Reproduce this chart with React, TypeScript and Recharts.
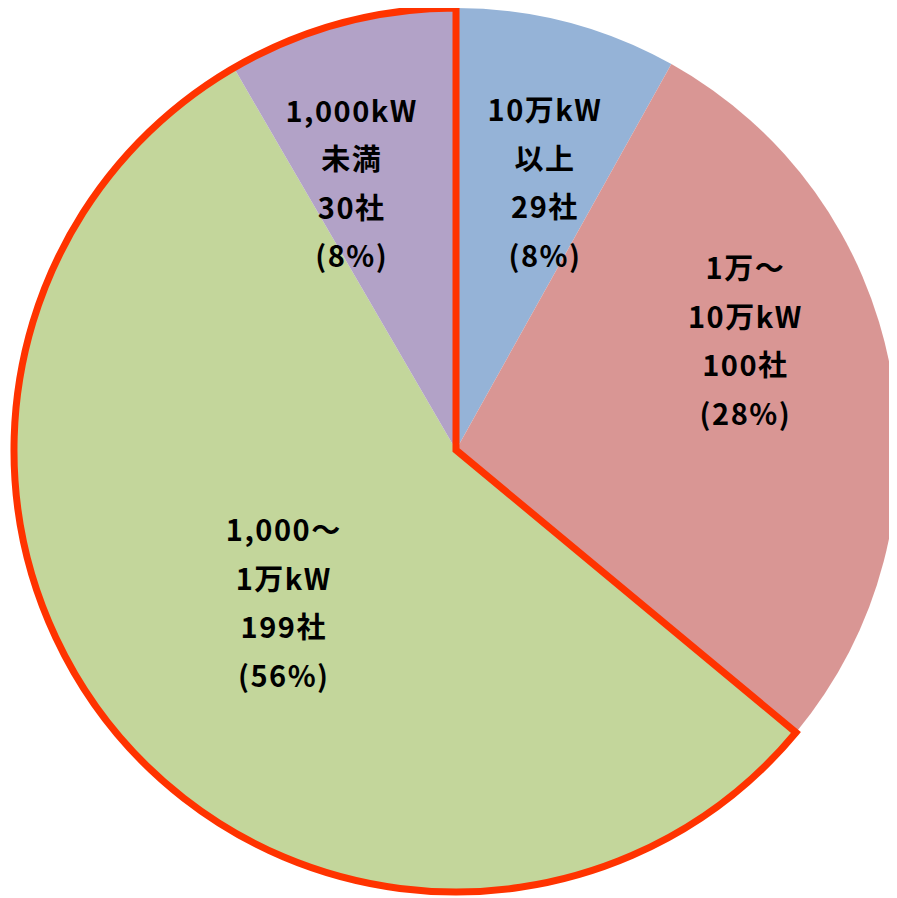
import React from "react";
import { PieChart, Pie, Cell } from "recharts";

const categories = [
  ["10万kW", "以上"],
  ["1万～", "10万kW"],
  ["1,000～", "1万kW"],
  ["1,000kW", "未満"],
];
const companies = [29, 100, 199, 30];
const colors = ["#95B3D7", "#D99694", "#C3D69B", "#B2A2C7"];
const labelNudge = [
  [20, -4],
  [20, -61],
  [37, -26],
  [-33, -4],
];

const total = companies.reduce((a, b) => a + b, 0);
const data = categories.map((lines, i) => ({
  name: lines.join(""),
  lines,
  value: companies[i],
}));
const outline = [
  { name: "upper", value: companies[0] + companies[1] },
  { name: "lower", value: companies[2] + companies[3] },
];

const W = 897;
const H = 898;
const CX = 448;
const CY = 442;
const R = 442;
const RAD = Math.PI / 180;

const renderLabel = (props: any) => {
  const { midAngle, index, value } = props;
  const r = R * 0.62;
  const x = CX + r * Math.cos(-midAngle * RAD) + labelNudge[index][0];
  const y = CY + r * Math.sin(-midAngle * RAD) + labelNudge[index][1];
  const pct = Math.round((value / total) * 100);
  const lines = [...data[index].lines, `${value}社`, `(${pct}%)`];
  const lh = 48.5;
  const y0 = y - ((lines.length - 1) * lh) / 2;
  return (
    <text
      key={`lbl-${index}`}
      x={x}
      y={y0}
      textAnchor="middle"
      fill="#000"
      fontFamily="'Noto Sans CJK JP', 'Noto Sans', sans-serif"
      fontWeight="bold"
      fontSize={29}
      letterSpacing={1.5}
    >
      {lines.map((t, i) => (
        <tspan key={i} x={x} y={y0 + i * lh} dominantBaseline="central">
          {t}
        </tspan>
      ))}
    </text>
  );
};

export default function App() {
  return (
    <div style={{ width: W, height: H }}>
      <PieChart width={W} height={H} margin={{ top: 0, right: 0, bottom: 0, left: 0 }}>
        <Pie
          data={data}
          dataKey="value"
          cx={CX}
          cy={CY}
          outerRadius={R}
          innerRadius={0}
          startAngle={90}
          endAngle={-270}
          stroke="none"
          label={renderLabel}
          labelLine={false}
          isAnimationActive={false}
        >
          {data.map((d, i) => (
            <Cell key={d.name} fill={colors[i]} stroke="none" />
          ))}
        </Pie>
        <Pie
          data={outline}
          dataKey="value"
          cx={CX}
          cy={CY}
          outerRadius={R}
          innerRadius={0}
          startAngle={90}
          endAngle={-270}
          label={false}
          labelLine={false}
          isAnimationActive={false}
        >
          <Cell fill="none" stroke="none" />
          <Cell fill="none" stroke="#FF3300" strokeWidth={7} strokeLinejoin="miter" />
        </Pie>
      </PieChart>
    </div>
  );
}
